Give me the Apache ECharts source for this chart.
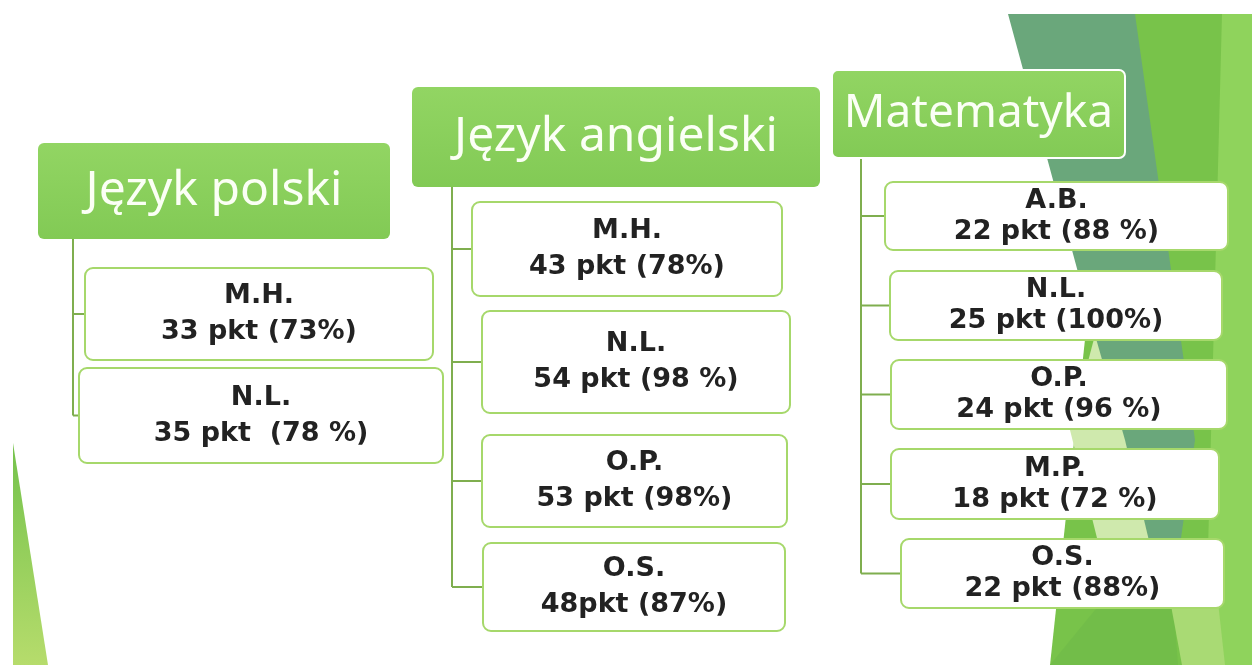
<!DOCTYPE html>
<html>
<head>
<meta charset="utf-8">
<script src="https://cdn.jsdelivr.net/npm/echarts@6/dist/echarts.min.js"></script>
<style>
  html, body { margin: 0; padding: 0; background: #fff; }
  #chart { width: 1252px; height: 665px; }
</style>
</head>
<body>
<div id="chart"></div>
<script>
// dane
const subjects = ['Język polski', 'Język angielski', 'Matematyka']
const students = [
  ['M.H.', 'N.L.'],
  ['M.H.', 'N.L.', 'O.P.', 'O.S.'],
  ['A.B.', 'N.L.', 'O.P.', 'M.P.', 'O.S.']
]
const scores = [
  ['33 pkt (73%)', '35 pkt  (78 %)'],
  ['43 pkt (78%)', '54 pkt (98 %)', '53 pkt (98%)', '48pkt (87%)'],
  ['22 pkt (88 %)', '25 pkt (100%)', '24 pkt (96 %)', '18 pkt (72 %)', '22 pkt (88%)']
]

// uklad (x, y, szer, wys)
const headBoxes = [[38, 143, 352, 96], [412, 87, 408, 100], [832, 70, 293, 88]]
const headFont = [48, 48, 46]
const trunkX = [73, 452, 861]
const childBoxes = [
  [[85, 268, 348, 92], [79, 368, 364, 95]],
  [[472, 202, 310, 94], [482, 311, 308, 102], [482, 435, 305, 92], [483, 543, 302, 88]],
  [[885, 182, 343, 68], [890, 271, 332, 69], [891, 360, 336, 69], [891, 449, 328, 70], [901, 539, 323, 69]]
]
const lineGap = [36, 36, 31]

const chart = echarts.init(document.getElementById('chart'), null, {renderer: 'canvas'})

// tlo (zielone trojkaty)
function poly(points, fill) {
  return {type: 'polygon', silent: true, shape: {points}, style: {fill}}
}
const background = [
  poly([[1120, 14], [1252, 14], [1252, 665], [1050, 665]], '#78c34a'),
  poly([[1222, 14], [1252, 14], [1252, 665], [1205, 665]], '#8fd35c'),
  poly([[1008, 14], [1135, 14], [1195, 440], [1180, 545], [1150, 545], [1095, 335]], '#6aa77b'),
  poly([[1095, 335], [1125, 440], [1150, 545], [1115, 610], [1070, 430]], '#cfe9ad'),
  poly([[1050, 665], [1095, 610], [1170, 560], [1178, 665]], '#72bd49'),
  poly([[1170, 600], [1215, 575], [1225, 665], [1182, 665]], '#a9da74'),
  {
    type: 'polygon', silent: true,
    shape: {points: [[13, 443], [13, 665], [48, 665]]},
    style: {fill: new echarts.graphic.LinearGradient(0, 0, 0, 1, [
      {offset: 0, color: '#74c24c'}, {offset: 1, color: '#b6dc6c'}
    ])}
  }
]

const elements = [...background]

subjects.forEach((name, i) => {
  const [hx, hy, hw, hh] = headBoxes[i]
  const kids = childBoxes[i]
  const last = kids[kids.length - 1]
  const lastMid = last[1] + last[3] / 2
  // pionowa linia
  elements.push({
    type: 'polyline', silent: true,
    shape: {points: [[trunkX[i], hy + hh], [trunkX[i], lastMid]]},
    style: {stroke: '#7fae4f', lineWidth: 2, fill: null}
  })
  // naglowek
  elements.push({
    type: 'rect',
    shape: {x: hx, y: hy, width: hw, height: hh, r: 6},
    style: {
      fill: new echarts.graphic.LinearGradient(0, 0, 0, 1, [
        {offset: 0, color: '#92d563'}, {offset: 1, color: '#82ca55'}
      ]),
      stroke: i === 2 ? '#ffffff' : null,
      lineWidth: 2
    }
  })
  elements.push({
    type: 'text',
    style: {
      text: name, x: hx + hw / 2, y: hy + hh / 2,
      fill: '#fbfff5', font: `${headFont[i]}px "Noto Sans"`,
      align: 'center', verticalAlign: 'middle'
    }
  })
  // uczniowie
  students[i].forEach((who, j) => {
    const [bx, by, bw, bh] = kids[j]
    const mid = by + bh / 2
    elements.push({
      type: 'polyline', silent: true,
      shape: {points: [[trunkX[i], mid], [bx, mid]]},
      style: {stroke: '#7fae4f', lineWidth: 2, fill: null}
    })
    elements.push({
      type: 'rect',
      shape: {x: bx, y: by, width: bw, height: bh, r: 8},
      style: {fill: '#ffffff', stroke: '#a6d86b', lineWidth: 2}
    })
    elements.push({
      type: 'text',
      style: {
        text: who + '\n' + scores[i][j], x: bx + bw / 2, y: mid,
        fill: '#222222', font: 'bold 27px "DejaVu Sans"',
        align: 'center', verticalAlign: 'middle', lineHeight: lineGap[i]
      }
    })
  })
})

chart.setOption({
  backgroundColor: '#ffffff',
  animation: false,
  graphic: {elements}
})
</script>
</body>
</html>
